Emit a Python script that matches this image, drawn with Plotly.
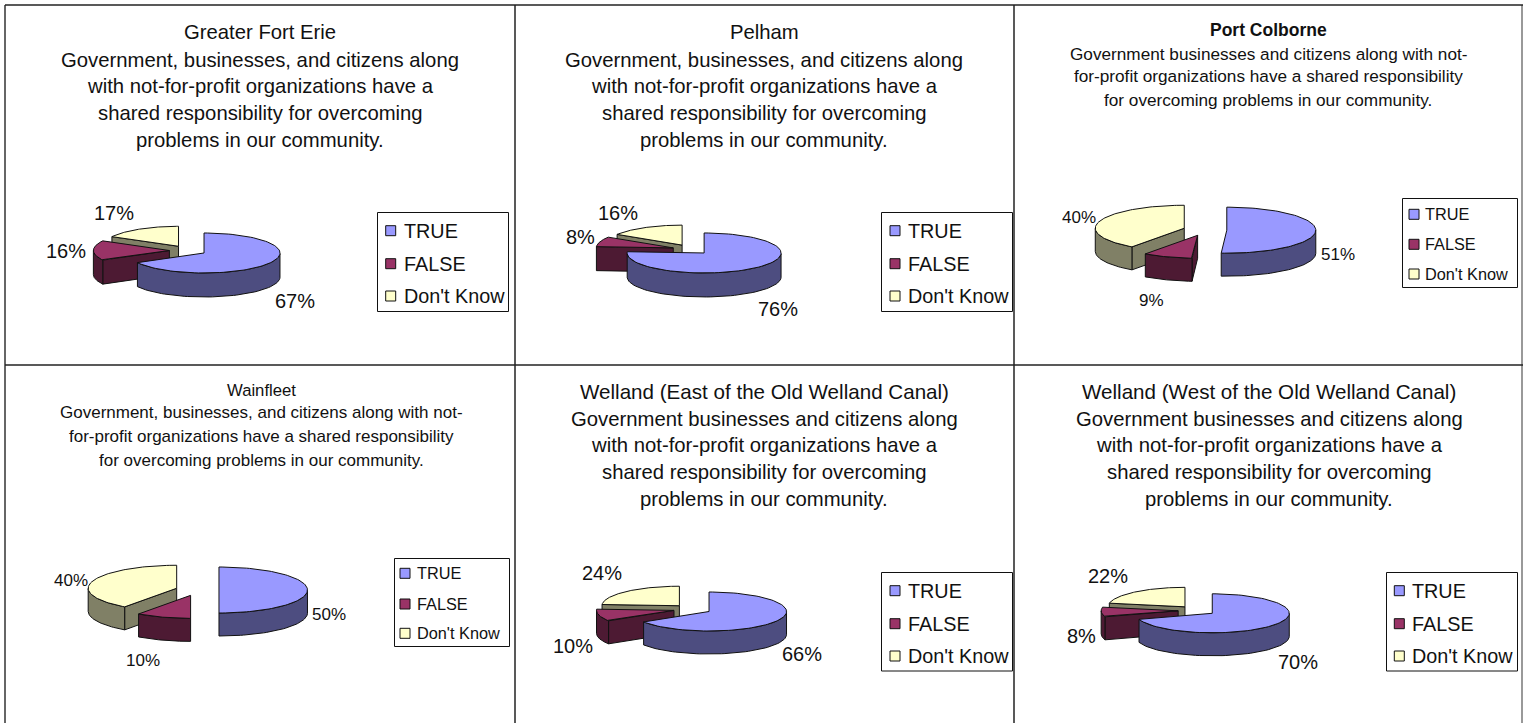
import numpy as np
import plotly.graph_objects as go

# ---- data ----
CATEGORIES = ["TRUE", "FALSE", "Don't Know"]
TRUE_VALUES = [67, 76, 51, 50, 66, 70]
FALSE_VALUES = [16, 8, 9, 10, 10, 8]
DONT_KNOW_VALUES = [17, 16, 40, 40, 24, 22]

COMMON = ["with not-for-profit organizations have a",
          "shared responsibility for overcoming",
          "problems in our community."]
TITLES = [
    ["Greater Fort Erie", "Government, businesses, and citizens along"] + COMMON,
    ["Pelham", "Government, businesses, and citizens along"] + COMMON,
    ["<b>Port Colborne</b>", "Government businesses and citizens along with not-",
     "for-profit organizations have a shared responsibility",
     "for overcoming problems in our community."],
    ["Wainfleet", "Government, businesses, and citizens along with not-",
     "for-profit organizations have a shared responsibility",
     "for overcoming problems in our community."],
    ["Welland (East of the Old Welland Canal)", "Government businesses and citizens along"] + COMMON,
    ["Welland (West of the Old Welland Canal)", "Government businesses and citizens along"] + COMMON,
]

# ---- styling / layout ----
TOP = ["#9999FF", "#993366", "#FFFFCC"]
SIDE = ["#4D4D80", "#4D1A33", "#808066"]
FONT = "Liberation Sans"
INK = "#111111"
EXPLODE = 0.245

PANELS = [
    dict(c=(188, 250.5), rx=76, ry=20, d=24, tx=260, ty=[32, 60, 86, 113, 140], tf=20.3, lf=19.8, pf=20,
         box=(377.5, 212.5, 508.5, 311.5), sx=390.7, lx=402, sy=[230.7, 263.7, 296],
         pct=[(295, 300.7), (66, 251), (114, 213)]),
    dict(c=(691.2, 249.4), rx=77, ry=20, d=24, tx=764, ty=[32, 60, 86, 113, 140], tf=20.3, lf=19.8, pf=20,
         box=(881.5, 212.5, 1012.5, 311.5), sx=895, lx=906, sy=[230.7, 263.7, 296],
         pct=[(777.7, 309.3), (580.7, 237.3), (617.7, 213.3)]),
    dict(c=(1205, 230), rx=89, ry=23, d=23, tx=1268, ty=[30, 54, 76, 100], tf=17.2, lf=16.3, pf=17,
         box=(1402.5, 198.5, 1517.5, 287.5), sx=1414, lx=1423, sy=[214.3, 244.3, 274],
         pct=[(1337.7, 254.3), (1151, 300), (1079, 217.3)]),
    dict(c=(197.3, 590), rx=88.5, ry=23, d=23, tx=261, ty=[390, 412, 436, 460], tf=17, lf=16.3, pf=17,
         box=(394.5, 558.5, 509.5, 646.5), sx=405, lx=415, sy=[573.3, 604, 633.3],
         pct=[(329.3, 614.3), (142.7, 660), (71, 580)]),
    dict(c=(692.4, 609.2), rx=77.5, ry=19.5, d=23, tx=764, ty=[391, 419, 445, 472, 499], tf=20.3, lf=19.8, pf=20,
         box=(881.5, 572.5, 1012.5, 671), sx=895, lx=906, sy=[590.7, 623.7, 656],
         pct=[(801.7, 654), (573.3, 646), (601.7, 573.3)]),
    dict(c=(1197, 610.5), rx=77, ry=19.5, d=23, tx=1269, ty=[391, 419, 445, 472, 499], tf=20.3, lf=19.8, pf=20,
         box=(1386.5, 572.5, 1517.5, 671), sx=1399.3, lx=1410.3, sy=[590.7, 623.7, 656],
         pct=[(1297.7, 661.7), (1081, 636), (1108.3, 576)]),
]

fig = go.Figure()


def poly(xs, ys, color, name):
    fig.add_trace(go.Scatter(
        x=list(xs) + [xs[0]], y=list(ys) + [ys[0]], mode="lines", fill="toself",
        fillcolor=color, line=dict(color=INK, width=1, shape="linear"),
        name=name, showlegend=False, hoverinfo="skip"))


def wedge(values, idx, p, cat):
    total = sum(values)
    a0 = sum(values[:idx]) / total * 2 * np.pi
    a1 = sum(values[:idx + 1]) / total * 2 * np.pi
    mid = (a0 + a1) / 2
    cx = p["c"][0] + EXPLODE * p["rx"] * np.sin(mid)
    cy = p["c"][1] - EXPLODE * p["ry"] * np.cos(mid)
    rx, ry, d = p["rx"], p["ry"], p["d"]
    t = np.linspace(a0, a1, 90)
    ex, ey = cx + rx * np.sin(t), cy - ry * np.cos(t)
    # cut faces, only those turned toward the viewer
    if np.sin(a0) < -1e-6:
        poly([cx, ex[0], ex[0], cx], [cy, ey[0], ey[0] + d, cy + d], SIDE[cat], CATEGORIES[cat])
    if np.sin(a1) > 1e-6:
        poly([cx, ex[-1], ex[-1], cx], [cy, ey[-1], ey[-1] + d, cy + d], SIDE[cat], CATEGORIES[cat])
    # outer wall: only the part facing the viewer
    wall = (t >= np.pi / 2) & (t <= 3 * np.pi / 2)
    if wall.sum() > 1:
        wx, wy = ex[wall], ey[wall]
        poly(list(wx) + list(wx[::-1]), list(wy) + list(wy[::-1] + d), SIDE[cat], CATEGORIES[cat])
    # top
    poly([cx] + list(ex), [cy] + list(ey), TOP[cat], CATEGORIES[cat])


annotations = []
shapes = []


def label(x, y, text, size, anchor="center"):
    annotations.append(dict(x=x, y=y, xref="x", yref="y", text=text, showarrow=False,
                            xanchor=anchor, yanchor="middle",
                            font=dict(family=FONT, size=size, color=INK)))


for i, p in enumerate(PANELS):
    values = [TRUE_VALUES[i], FALSE_VALUES[i], DONT_KNOW_VALUES[i]]
    # painter's order: back slices first
    for k in (2, 1, 0):
        wedge(values, k, p, k)
    for (x, y), v in zip(p["pct"], values):
        label(x, y, f"{v}%", p["pf"])
    for j, (y, line) in enumerate(zip(p["ty"], TITLES[i])):
        size = p["tf"]
        if i == 2 and j == 0:
            size = 17.5
        if i == 3 and j == 0:
            size = 16.7
        if i in (4, 5) and j == 0:
            size = 20.6
        label(p["tx"], y, line, size)
    x0, y0, x1, y1 = p["box"]
    shapes.append(dict(type="rect", x0=x0, y0=y0, x1=x1, y1=y1, xref="x", yref="y",
                       fillcolor="white", line=dict(color=INK, width=1), layer="below"))
    for k, cat in enumerate(CATEGORIES):
        fig.add_trace(go.Scatter(
            x=[p["sx"]], y=[p["sy"][k]], mode="markers", name=cat, showlegend=False,
            hoverinfo="skip",
            marker=dict(symbol="square", size=10, color=TOP[k], line=dict(color=INK, width=1))))
        label(p["lx"], p["sy"][k], cat, p["lf"], "left")

# panel frame
for x, y0, y1, col in [(5, 5, 723, "#333333"), (515, 5, 723, "#222222"),
                       (1014, 5, 723, "#222222"), (1522, 5, 723, "#777777")]:
    shapes.append(dict(type="line", x0=x, x1=x, y0=y0, y1=y1, xref="x", yref="y",
                       line=dict(color=col, width=1.5)))
for y in (5, 365):
    shapes.append(dict(type="line", x0=5, x1=1523, y0=y, y1=y, xref="x", yref="y",
                       line=dict(color="#222222", width=1.5)))

fig.update_layout(
    width=1523, height=723, margin=dict(l=0, r=0, t=0, b=0),
    paper_bgcolor="white", plot_bgcolor="white", showlegend=False,
    xaxis=dict(range=[0, 1523], visible=False, fixedrange=True),
    yaxis=dict(range=[723, 0], visible=False, fixedrange=True),
    annotations=annotations, shapes=shapes,
)
fig.write_html("out.html", config=dict(displayModeBar=False),
               post_script="document.body.style.margin='0';document.documentElement.style.overflow='hidden';")
